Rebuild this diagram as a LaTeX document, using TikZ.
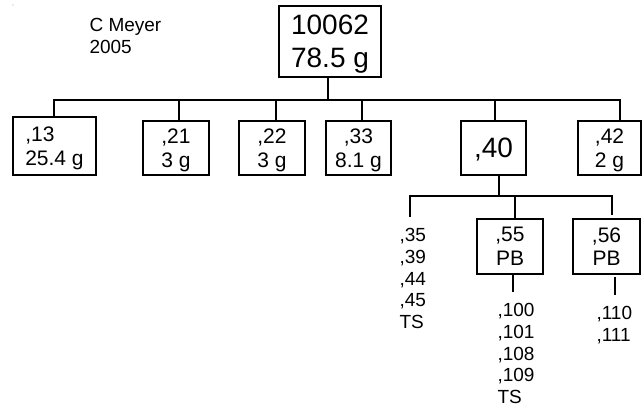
\documentclass[tikz,border=0pt]{standalone}
\usepackage{fontspec}
\setmainfont{Liberation Sans}
\begin{document}
\begin{tikzpicture}[x=1pt,y=-1pt,
  line width=1.1pt,
  boxnode/.style={draw,inner sep=0pt,align=center,text depth=0pt},
  bigtext/.style={font=\fontsize{28}{33}\selectfont},
  midtext/.style={font=\fontsize{21}{23.5}\selectfont},
  listtext/.style={font=\fontsize{19}{21.7}\selectfont,anchor=north west,inner sep=0pt,align=left}]
\useasboundingbox (0,0) rectangle (642,404);
\fill[gray!70] (13,5) circle (0.6);
% author
\node[listtext] (author) at (89,18) {C Meyer\\2005};
% boxes
\node[boxnode,bigtext,minimum width=102,minimum height=71] (top) at (330,41.5) {10062\\78.5 g};
\node[boxnode,midtext,align=left,minimum width=83,minimum height=58] (b13) at (54.5,146) {,13\\25.4 g};
\node[boxnode,midtext,minimum width=66,minimum height=54] (b21) at (176,148) {,21\\3 g};
\node[boxnode,midtext,minimum width=66,minimum height=54] (b22) at (272,148) {,22\\3 g};
\node[boxnode,midtext,minimum width=65,minimum height=54] (b33) at (358.5,148) {,33\\8.1 g};
\node[boxnode,bigtext,minimum width=65,minimum height=54] (b40) at (493.5,148) {,40};
\node[boxnode,midtext,minimum width=63,minimum height=54] (b42) at (609.5,148) {,42\\2 g};
\node[boxnode,midtext,minimum width=66,minimum height=55] (b55) at (510,246.5) {,55\\PB};
\node[boxnode,midtext,minimum width=67,minimum height=55] (b56) at (606.5,246.5) {,56\\PB};
% lists
\node[listtext] (l1) at (399,228) {,35\\,39\\,44\\,45\\TS};
\node[listtext] (l2) at (497,303) {,100\\,101\\,108\\,109\\TS};
\node[listtext] (l3) at (596,306) {,110\\,111};
% first bus
\coordinate (s0) at (328,100);
\coordinate (busL) at (54,100);
\coordinate (busR) at (620,100);
\draw (s0 |- top.south) -- (s0);
\draw (busL) -- (busR);
\coordinate (t1) at (54,99);
\coordinate (t2) at (179,99);
\coordinate (t3) at (276,99);
\coordinate (t4) at (362,99);
\coordinate (t5) at (495,99);
\coordinate (t6) at (620,99);
\draw (t1) -- (t1 |- b13.north);
\draw (t2) -- (t2 |- b21.north);
\draw (t3) -- (t3 |- b22.north);
\draw (t4) -- (t4 |- b33.north);
\draw (t5) -- (t5 |- b40.north);
\draw (t6) -- (t6 |- b42.north);
% second bus
\coordinate (s1) at (499,196);
\draw (s1 |- b40.south) -- (s1);
\coordinate (bus2L) at (410,196);
\coordinate (bus2R) at (612,196);
\draw (bus2L) -- (bus2R);
\coordinate (u1) at (410,195);
\coordinate (u1e) at (410,217);
\coordinate (u2) at (515,195);
\coordinate (u3) at (612,195);
\coordinate (u3e) at (612,215);
\draw (u1) -- (u1e);
\draw (u2) -- (u2 |- b55.north);
\draw (u3) -- (u3e);
% below boxes
\coordinate (v1) at (513,273);
\coordinate (v1e) at (513,292);
\coordinate (v2) at (615,277);
\coordinate (v2e) at (615,295);
\draw (v1) -- (v1e);
\draw (v2) -- (v2e);
\end{tikzpicture}
\end{document}
